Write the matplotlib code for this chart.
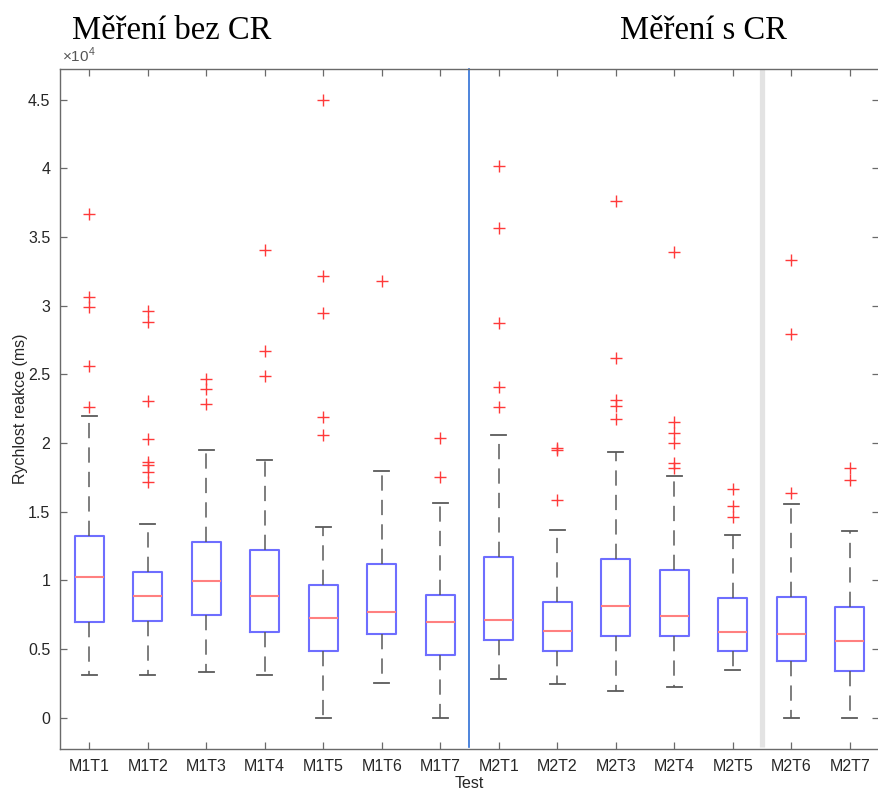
import matplotlib
matplotlib.use("Agg")
import matplotlib.pyplot as plt
from matplotlib.ticker import FixedLocator, FuncFormatter

# Test names and per-test box statistics (reaction time, ms)
tests = ["M1T1", "M1T2", "M1T3", "M1T4", "M1T5", "M1T6", "M1T7",
         "M2T1", "M2T2", "M2T3", "M2T4", "M2T5", "M2T6", "M2T7"]
q1 = [7000, 7050, 7490, 6270, 4860, 6080, 4600,
      5690, 4860, 5930, 5930, 4830, 4110, 3430]
medians = [10230, 8830, 9940, 8830, 7290, 7710, 7000,
           7100, 6320, 8100, 7440, 6270, 6080, 5620]
q3 = [13200, 10600, 12810, 12200, 9650, 11210, 8970,
      11690, 8390, 11550, 10770, 8730, 8800, 8050]
whisker_low = [3140, 3140, 3330, 3140, 0, 2550, 0,
               2800, 2480, 1970, 2210, 3500, 0, 0]
whisker_high = [22000, 14130, 19530, 18750, 13880, 17940, 15630,
                20570, 13690, 19330, 17570, 13320, 15540, 13620]
outliers = [
    [36670, 30660, 29880, 25600, 22630],
    [29600, 28800, 23070, 20280, 18650, 18380, 17870, 17190],
    [24680, 23970, 22850],
    [34060, 26720, 24900],
    [45000, 32190, 29450, 21900, 20590],
    [31800],
    [20350, 17530],
    [40190, 35640, 28740, 24050, 22590],
    [19640, 19500, 15880],
    [37640, 26210, 23120, 22680, 21740],
    [33890, 21540, 20710, 20030, 18520, 18180],
    [16680, 15410, 14610],
    [33330, 27960, 16360],
    [18210, 17330],
]
y_ticks = [0, 5000, 10000, 15000, 20000, 25000, 30000, 35000, 40000, 45000]

SANS = ["Liberation Sans", "DejaVu Sans"]
SERIF = ["Liberation Serif", "DejaVu Serif"]
plt.rcParams["font.family"] = SANS
plt.rcParams["mathtext.fontset"] = "custom"
plt.rcParams["mathtext.rm"] = "Liberation Sans"

fig = plt.figure(figsize=(8.79, 7.92), dpi=100)
ax = fig.add_axes([60 / 879, 43 / 792, 819 / 879, 680 / 792])

stats = []
for i, name in enumerate(tests):
    stats.append(dict(label=name, q1=q1[i], med=medians[i], q3=q3[i],
                      whislo=whisker_low[i], whishi=whisker_high[i],
                      fliers=outliers[i]))

positions = list(range(1, len(tests) + 1))
ax.bxp(stats, positions=positions, widths=0.5, showfliers=True,
       boxprops=dict(color="#6e6eff", linewidth=1.5),
       medianprops=dict(color="#ff8080", linewidth=1.5),
       whiskerprops=dict(color="#5a5a5a", linewidth=1.1, linestyle=(0, (10, 6))),
       capprops=dict(color="#5a5a5a", linewidth=1.3),
       capwidths=0.25,
       flierprops=dict(marker="+", markersize=9, markeredgewidth=1.0,
                       markeredgecolor="#ff3a3a", linestyle="none"))

ax.set_xlim(0.5, 14.5)
ax.set_ylim(-2280, 47240)

# separators between measurement groups
ax.plot([7.5, 7.5], [-2100, 47240], color="#2f6fd6", linewidth=1.2,
        clip_on=False, zorder=1)
ax.plot([12.5, 12.5], [-2100, 47240], color="#e3e3e3", linewidth=3.8,
        solid_capstyle="butt", zorder=0)

ax.yaxis.set_major_locator(FixedLocator(y_ticks))
ax.yaxis.set_major_formatter(FuncFormatter(lambda v, p: f"{v / 1e4:g}"))
ax.set_xticks(positions)
ax.set_xticklabels(tests)

for side in ax.spines.values():
    side.set_color("#6a6a6a")
    side.set_linewidth(1.0)
ax.tick_params(direction="in", length=5, width=0.9, color="#6a6a6a",
               labelcolor="#262626", labelsize=11.5, top=True, right=True)
ax.tick_params(axis="y", pad=7)
ax.tick_params(axis="x", pad=7)

ax.set_ylabel("Rychlost reakce (ms)", fontsize=11.5, color="#262626", labelpad=0)
ax.set_xlabel("Test", fontsize=11.5, color="#262626", labelpad=2)

ax.text(0.002, 1.006, r"$\times 10^{4}$", transform=ax.transAxes,
        fontsize=11, color="#555555", ha="left", va="bottom")

fig.text(72 / 879, 1 - 39 / 792, "Měření bez CR", family=SERIF,
         fontsize=23.5, color="black", ha="left", va="baseline")
fig.text(620 / 879, 1 - 39 / 792, "Měření s CR", family=SERIF,
         fontsize=23.5, color="black", ha="left", va="baseline")

fig.savefig("out.png", dpi=100, facecolor="white")
